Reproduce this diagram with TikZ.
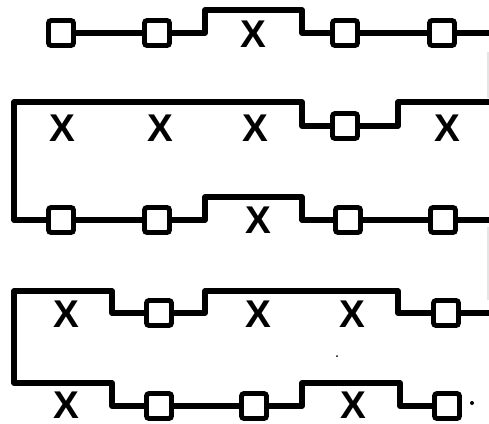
\documentclass[tikz,border=0pt]{standalone}
\usepackage{fontspec}
\setsansfont{Liberation Sans}

\begin{document}
\begin{tikzpicture}[x=0.02cm, y=-0.02cm,
  cell/.style={rectangle, draw, rounded corners=1.5pt, minimum size=0.5cm, inner sep=0pt, line width=2.8pt},
  gap/.style={inner sep=0pt, font=\sffamily\bfseries\fontsize{22}{22}\selectfont},
  wire/.style={line width=3pt, line join=round}]
  \useasboundingbox (0,0) rectangle (489,423);
  % row 1
  \node[cell] (a1) at (61,33) {};
  \node[cell] (a2) at (157,33) {};
  \node[gap] (a3) at (253,34) {X};
  \node[cell] (a4) at (345,33) {};
  \node[cell] (a5) at (442,33) {};
  % row 2
  \node[gap] (b1) at (62,128) {X};
  \node[gap] (b2) at (160,128) {X};
  \node[gap] (b3) at (255,128) {X};
  \node[cell] (b4) at (345,126) {};
  \node[gap] (b5) at (447,128) {X};
  % row 3
  \node[cell] (c1) at (61,220) {};
  \node[cell] (c2) at (157,220) {};
  \node[gap] (c3) at (258,220) {X};
  \node[cell] (c4) at (348,220) {};
  \node[cell] (c5) at (443,220) {};
  % row 4
  \node[gap] (d1) at (66,314) {X};
  \node[cell] (d2) at (159,313) {};
  \node[gap] (d3) at (258,314) {X};
  \node[gap] (d4) at (352,314) {X};
  \node[cell] (d5) at (446,313) {};
  % row 5
  \node[gap] (e1) at (66,405) {X};
  \node[cell] (e2) at (159,406) {};
  \node[cell] (e3) at (254,406) {};
  \node[gap] (e4) at (353,405) {X};
  \node[cell] (e5) at (447,406) {};
  % loose ends at the right edge
  \coordinate (r1) at (489,33);
  \coordinate (r2) at (489,102);
  \coordinate (r3) at (489,220);
  \coordinate (r4) at (489,313);

  \draw[wire] (a1) -- (a2);
  \draw[wire] (a2.east) -- (205,33) |- (302,10) |- (a4.west);
  \draw[wire] (a4) -- (a5);
  \draw[wire] (a5.east) -- (r1);

  \draw[wire] (c1.west) -| (14,102) -- (302,102) |- (b4.west);
  \draw[wire] (b4.east) -- (398,126) |- (r2);

  \draw[wire] (c1) -- (c2);
  \draw[wire] (c2.east) -- (205,220) |- (302,197) |- (c4.west);
  \draw[wire] (c4) -- (c5);
  \draw[wire] (c5.east) -- (r3);

  \draw[wire] (e2.west) -- (112,406) |- (14,383) |- (112,291) |- (d2.west);
  \draw[wire] (d2.east) -- (205,313) |- (398,291) |- (d5.west);
  \draw[wire] (d5.east) -- (r4);

  \draw[wire] (e2) -- (e3);
  \draw[wire] (e3.east) -- (302,406) |- (400,383) |- (e5.west);

  % faint marks
  \draw[gray!20, line width=0.6pt] (488,52) -- (488,98);
  \draw[gray!20, line width=0.6pt] (488,227) -- (488,300);
  \fill (472,403) circle (2);
  \fill (337,356) circle (1);
\end{tikzpicture}
\end{document}
